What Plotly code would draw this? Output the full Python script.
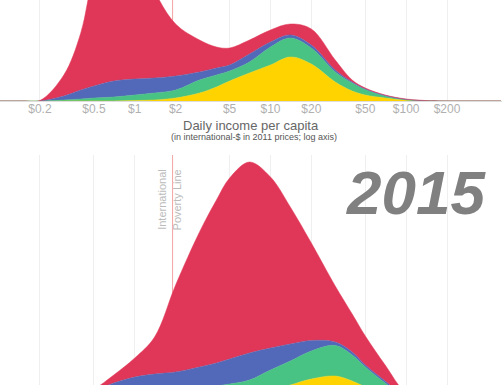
import plotly.graph_objects as go

# Daily income per capita (international-$, log axis)
income = [0.1, 0.15, 0.2, 0.3, 0.4, 0.5, 0.7, 1, 1.4, 2, 3, 4, 5, 7, 10, 14,
          20, 30, 40, 50, 70, 100, 150, 200, 300, 500]

tick_vals = [0.2, 0.5, 1, 2, 5, 10, 20, 50, 100, 200]
tick_text = ["$0.2", "$0.5", "$1", "$2", "$5", "$10", "$20", "$50", "$100", "$200"]
grid_vals = [0.2, 0.5, 1, 5, 10, 20, 50, 100, 200, 500]
poverty_line = 1.9
year_label = "2015"

regions = ["Europe", "Americas", "Africa", "Asia"]
colors = ["#FFD300", "#48C383", "#5268B8", "#E03657"]

# upper panel (earlier year) - population density by region (stacked)
top_europe = [0, 0, 0, 0, 0, 0, 0, 0.05, 0.1, 0.3, 0.8, 1.4, 2.0, 2.8, 3.6, 4.4,
              3.7, 1.9, 1.0, 0.6, 0.3, 0.08, 0.01, 0, 0, 0]
top_americas = [0, 0, 0, 0.1, 0.2, 0.3, 0.4, 0.55, 0.7, 0.8, 1.3, 1.2, 1.0, 1.1, 1.8, 1.9,
                1.6, 1.0, 0.8, 0.55, 0.2, 0.04, 0.01, 0, 0, 0]
top_africa = [0, 0, 0, 0.4, 0.9, 1.2, 1.6, 1.6, 1.5, 1.4, 0.8, 0.7, 0.6, 0.8, 0.5, 0.3,
              0.3, 0.2, 0.1, 0.05, 0.05, 0.03, 0, 0, 0, 0]
top_asia = [0, 0, 0.05, 2.1, 5.7, 11, 14.5, 13.8, 8.7, 5.2, 3.2, 2.1, 1.7, 1.4, 1.2, 1.1,
            1.6, 1.0, 0.2, 0.1, 0.05, 0.05, 0.01, 0, 0, 0]

# lower panel (2015)
bot_europe = [0, 0, 0, 0, 0, 0, 0, 0.02, 0.05, 0.1, 0.2, 0.4, 0.6, 1.0, 1.5, 2.0,
              2.6, 2.9, 2.4, 1.8, 0.9, 0.3, 0.06, 0.01, 0, 0]
bot_americas = [0, 0, 0, 0, 0.1, 0.2, 0.4, 0.58, 0.85, 1.1, 1.4, 1.5, 1.5, 1.5, 2.0, 2.4,
                2.8, 3.05, 2.6, 2.0, 1.3, 0.4, 0.09, 0.03, 0.01, 0]
bot_africa = [0, 0, 0.03, 0.4, 0.9, 1.2, 1.8, 2.2, 2.2, 2.1, 2.2, 2.3, 2.5, 2.7, 2.2, 1.7,
              1.05, 0.35, 0.3, 0.2, 0.2, 0.1, 0.05, 0.01, 0, 0]
bot_asia = [0, 0, 0.02, 0.1, 0.2, 0.2, 0.8, 1.9, 3.7, 8.7, 13.5, 16.3, 18.1, 19.1, 17.1, 13.7,
            9.75, 5.6, 3.8, 2.9, 1.6, 0.4, 0.1, 0.05, 0.01, 0]

top_series = [top_europe, top_americas, top_africa, top_asia]
bot_series = [bot_europe, bot_americas, bot_africa, bot_asia]

fig = go.Figure()
for name, col, ys in zip(regions, colors, top_series):
    fig.add_trace(go.Scatter(x=income, y=ys, name=name, xaxis="x", yaxis="y",
                             stackgroup="top", mode="lines",
                             line=dict(color=col, width=0.5, shape="spline", smoothing=1),
                             fillcolor=col, showlegend=False, hoverinfo="skip"))
for name, col, ys in zip(regions, colors, bot_series):
    fig.add_trace(go.Scatter(x=income, y=ys, name=name, xaxis="x2", yaxis="y2",
                             stackgroup="bot", mode="lines",
                             line=dict(color=col, width=0.5, shape="spline", smoothing=1),
                             fillcolor=col, showlegend=False, hoverinfo="skip"))

W, H = 504, 385
xr = [-0.993, 2.706]
font_fam = "Liberation Sans, Arial, sans-serif"

common_x = dict(type="log", range=xr, showgrid=False, zeroline=False,
                minor=dict(tickmode="array", tickvals=grid_vals, showgrid=True,
                           gridcolor="#efefef", gridwidth=1, ticks=""))

fig.update_layout(
    width=W, height=H,
    margin=dict(l=0, r=2, t=0, b=0),
    paper_bgcolor="white", plot_bgcolor="white",
    font=dict(family=font_fam),
    hovermode=False,
    xaxis=dict(**common_x, domain=[0, 1], anchor="y",
               tickmode="array", tickvals=tick_vals, ticktext=tick_text,
               tickfont=dict(size=12, color="#b0b0b0"), ticks="",
               ticklabelstandoff=-3,
               showline=True, linecolor="#dddddd", linewidth=1),
    yaxis=dict(domain=[1 - 101 / H, 1], range=[0, 10.1], anchor="x",
               showgrid=False, zeroline=False, showticklabels=False),
    xaxis2=dict(**common_x, domain=[0, 1], anchor="y2", showticklabels=False,
                showline=False),
    yaxis2=dict(domain=[0, 1 - 155 / H], range=[2, 25], anchor="x2",
                showgrid=False, zeroline=False, showticklabels=False),
    annotations=[
        dict(text="Daily income per capita", xref="paper", yref="paper",
             x=0.5, y=1 - 125 / H, xanchor="center", yanchor="middle",
             showarrow=False, font=dict(size=13, color="#666666")),
        dict(text="(in international-$ in 2011 prices; log axis)", xref="paper", yref="paper",
             x=0.505, y=1 - 137 / H, xanchor="center", yanchor="middle",
             showarrow=False, font=dict(size=9, color="#555555")),
        dict(text=year_label, xref="paper", yref="paper",
             x=416 / 502, y=1 - 193 / H, xanchor="center", yanchor="middle",
             showarrow=False,
             font=dict(size=62, color="#808080", family=font_fam, weight="bold", style="italic")),
        dict(text="International<br>Poverty Line", xref="x2", yref="paper",
             x=0.252, y=1 - 167 / H, xanchor="center", yanchor="top",
             textangle=-90, align="right", showarrow=False,
             font=dict(size=11, color="#bbbbbb")),
    ],
    shapes=[
        dict(type="line", xref="x", yref="y domain", x0=poverty_line, x1=poverty_line,
             y0=0, y1=1, line=dict(color="#f5a3a3", width=1), layer="below"),
        dict(type="line", xref="x2", yref="y2 domain", x0=poverty_line, x1=poverty_line,
             y0=0, y1=1, line=dict(color="#f5a3a3", width=1), layer="below"),
    ],
)

fig.write_html("out.html", config={"displayModeBar": False, "staticPlot": True},
               post_script="document.body.style.margin='0';document.body.style.overflow='hidden';")
